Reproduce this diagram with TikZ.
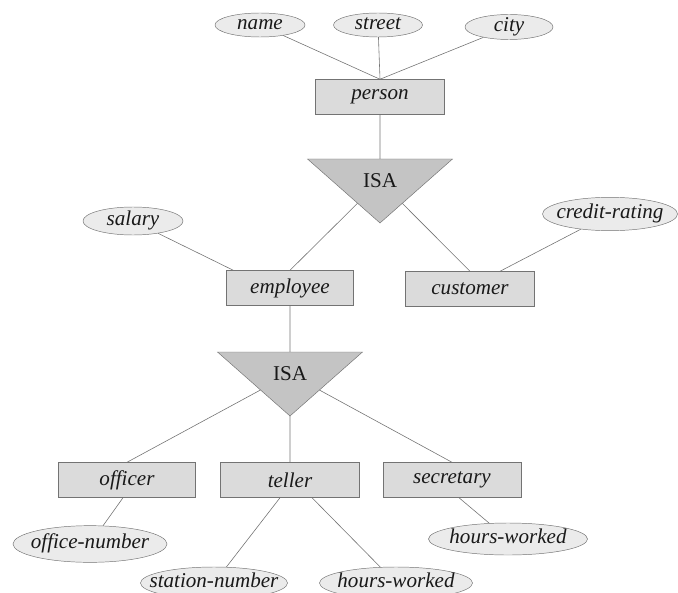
\documentclass[tikz,border=0pt]{standalone}
\usepackage{fontspec}
\setmainfont{Liberation Serif}
\usepackage{tikz}
\usetikzlibrary{shapes}
\usetikzlibrary{shapes.geometric}
\usetikzlibrary{calc}

\tikzset{
  entity/.style={draw=black!55, fill=black!14, minimum height=1.05cm, inner sep=0pt, font=\fontsize{18}{21}\selectfont\itshape},
  attrib/.style={draw=black!55, fill=black!8, ellipse, inner sep=0pt, text height=11pt, text depth=3pt, font=\fontsize{18}{21}\selectfont\itshape},
  isa/.style={draw=black!55, fill=black!23, isosceles triangle, isosceles triangle stretches, shape border rotate=270, minimum width=4.35cm, minimum height=1.92cm, inner sep=0pt, outer sep=0pt, font=\fontsize{18}{21}\selectfont},
  link/.style={draw=black!55, line width=0.5pt}
}

\begin{document}
\begin{tikzpicture}[x=0.03cm, y=-0.03cm, text=black!90]
    \path[use as bounding box] (0, 0) rectangle (678, 592);

% entity sets
\foreach \n / \x / \y / \w in {person/380/97/3.87, employee/290/288/3.81, customer/470/289/3.87, officer/127/480/4.11, teller/290/480/4.17, secretary/452/480/4.14}
  \node[entity, minimum width=\w cm] (\n) at (\x, \y) {\n};

% isa triangles
\node[isa, anchor=apex] (isa1) at (380, 223) {ISA};
\node[isa, anchor=apex] (isa2) at (290, 416) {ISA};

% attributes
\foreach \n / \t / \x / \y / \w / \h in {name/name/260/25/2.7/0.72, street/street/378/25/2.67/0.72, city/city/509/27/2.64/0.75, salary/salary/133/221/3.0/0.84, credit/credit-rating/610/214/4.05/1.0, offnum/office-number/90/544/4.62/1.1, station/station-number/214/583/4.41/0.96, hoursa/hours-worked/396/583/4.59/0.96, hoursb/hours-worked/508/539/4.77/0.96}
  \node[attrib, minimum width=\w cm, minimum height=\h cm] (\n) at (\x, \y) {\makebox[0pt]{\t}};

\foreach \a in {name, street, city}
  \draw[link] (\a) -- (person.north);
\draw[link] (person) -- (isa1);
\foreach \b in {employee, customer}
  \draw[link] (isa1) -- (\b.north);
\draw[link] (salary) -- ([xshift=0.21cm]employee.north west);
\draw[link] (credit) -- ([xshift=0.9cm]customer.north);

\draw[link] (employee) -- (isa2);
\foreach \b in {officer, teller, secretary}
  \draw[link] (isa2) -- (\b.north);
\draw[link] ([xshift=-0.12cm]officer.south) -- (offnum);
\draw[link] ([xshift=-0.3cm]teller.south) -- (station);
\draw[link] ([xshift=0.66cm]teller.south) -- (hoursa);
\draw[link] ([xshift=0.21cm]secretary.south) -- (hoursb);
\end{tikzpicture}
\end{document}
